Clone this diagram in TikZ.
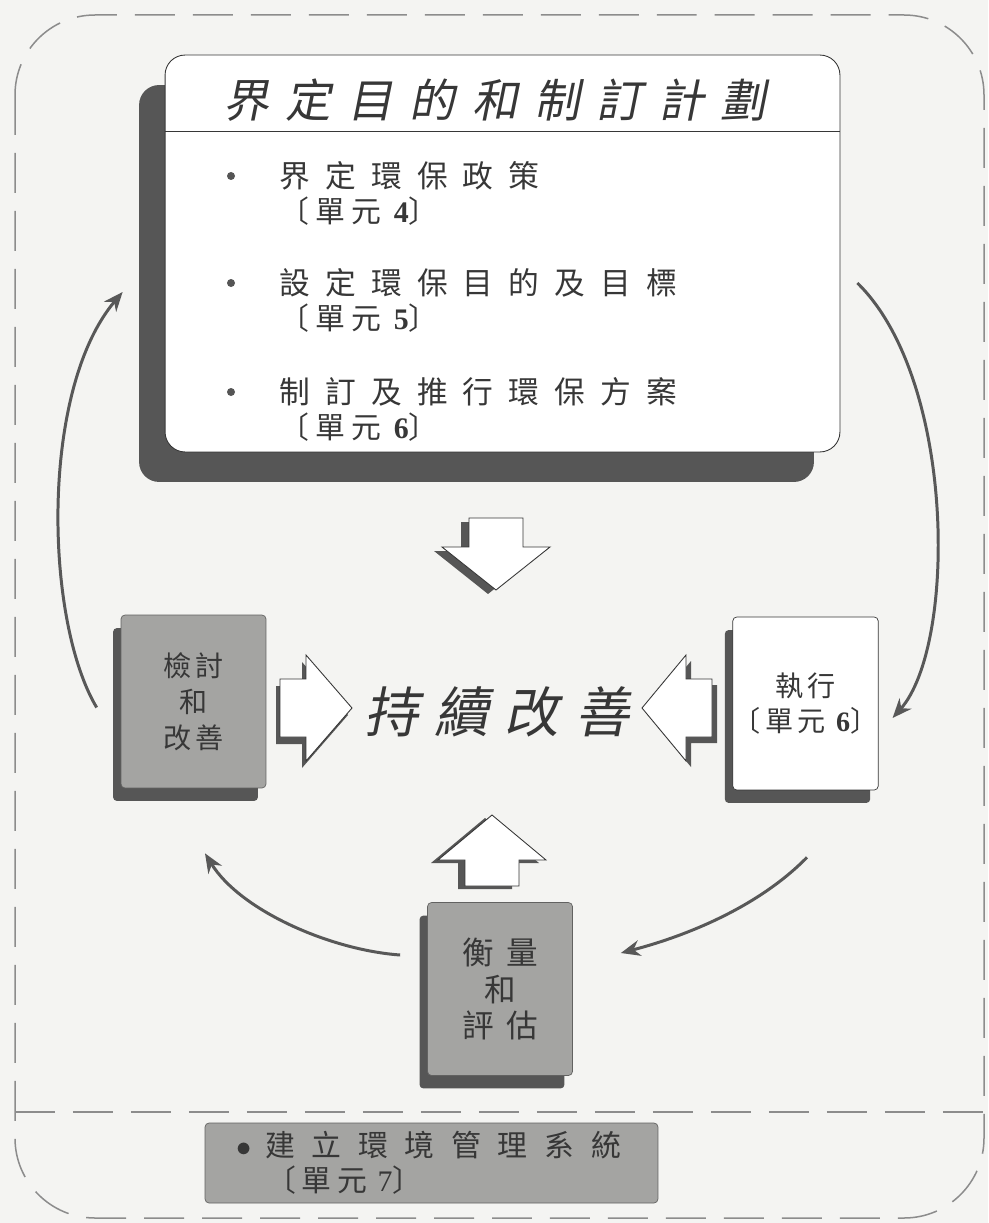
\documentclass[tikz,border=0pt]{standalone}
\usepackage{fontspec}
\usetikzlibrary{positioning,shadows,arrows.meta}

\newfontfamily\cjk{Noto Sans CJK TC}
\newfontfamily\cjkslant[FakeSlant=0.2]{Noto Sans CJK TC}
\newfontfamily\numf{Liberation Serif}
\newcommand\unitno[1]{{\numf\bfseries #1}}

\definecolor{bg}{RGB}{244,244,242}
\definecolor{ink}{RGB}{55,55,55}
\definecolor{boxgray}{RGB}{164,164,162}
\definecolor{shadowgray}{RGB}{86,86,86}
\definecolor{arcgray}{RGB}{88,88,88}
\definecolor{framegray}{RGB}{140,140,140}

\tikzset{
    dashframe/.style={draw=framegray, line width=0.3mm, dash pattern=on 8mm off 3.6mm},
    roundarrow/.style={draw=arcgray, line width=1.7pt, -{Stealth[length=11pt,width=9pt]}},
    hollow/.style 2 args={draw=ink, line width=0.5pt, fill=white,
        drop shadow={shadow xshift=#1, shadow yshift=#2, fill=shadowgray, opacity=1}},
    planbox/.style={draw=ink, line width=0.5pt, fill=white, rounded corners=4mm,
        minimum width=13.5cm, minimum height=7.94cm,
        drop shadow={shadow xshift=-5.2mm, shadow yshift=-6mm, fill=shadowgray, opacity=1}},
    plainbox/.style={draw=ink, line width=0.4pt, fill=white, rounded corners=0.8mm,
        minimum width=2.9cm, minimum height=3.46cm, align=center, text=ink, inner xsep=0pt,
        font=\cjk\fontsize{16}{20.4}\selectfont\addfontfeature{LetterSpace=15},
        drop shadow={shadow xshift=-1.6mm, shadow yshift=-2.6mm, fill=shadowgray, opacity=1}},
    graybox/.style={plainbox, fill=boxgray, draw=boxgray!60!black},
    flatbox/.style={draw=boxgray!60!black, line width=0.4pt, fill=boxgray, rounded corners=0.8mm,
        align=left, text=ink, text width=7.82cm, inner xsep=0.62cm, minimum height=1.6cm,
        font=\cjk\fontsize{17}{19.8}\selectfont\addfontfeature{LetterSpace=56}},
    titletext/.style={text=ink, font=\cjkslant\fontsize{26}{30}\selectfont\addfontfeature{LetterSpace=36}},
    goaltext/.style={text=ink, font=\cjkslant\fontsize{31}{36}\selectfont\addfontfeature{LetterSpace=29}},
    bulletdot/.style={circle, fill=ink!85, inner sep=0pt, minimum size=1.6mm},
    itemtext/.style={text=ink, inner sep=0pt, font=\cjk\fontsize{17.5}{20}\selectfont\addfontfeature{LetterSpace=49}},
    unittext/.style={text=ink, inner sep=0pt, font=\cjk\fontsize{17}{20}\selectfont\addfontfeature{LetterSpace=20}}
}

\begin{document}
\begin{tikzpicture}[x=0.02cm, y=-0.02cm]
    \path [use as bounding box, fill=bg] (0,0) rectangle (988,1223);
    \draw [dashframe, rounded corners=1.6cm] (15,15) rectangle (984,1218);
    \draw [dashframe] (15,1112) -- (984,1112);

    \node [planbox] (plan) at (502.5,253.5) {};
    \draw [ink, line width=0.5pt] ([yshift=-1.54cm]plan.north west) -- ([yshift=-1.54cm]plan.north east);
    \node [titletext] (head) at (495,100) {界定目的和制訂計劃};

    \node [bulletdot] (d1) at (231,176) {};
    \node [itemtext] (t1) [right=0.88cm of d1] {界定環保政策};
    \node [unittext] (u1) [below=1.2mm of t1.south west, anchor=north west] {〔單元 \unitno{4}〕};
    \node [bulletdot] (d2) at (231,283) {};
    \node [itemtext] (t2) [right=0.88cm of d2] {設定環保目的及目標};
    \node [unittext] (u2) [below=1.2mm of t2.south west, anchor=north west] {〔單元 \unitno{5}〕};
    \node [bulletdot] (d3) at (231,392) {};
    \node [itemtext] (t3) [right=0.88cm of d3] {制訂及推行環保方案};
    \node [unittext] (u3) [below=1.2mm of t3.south west, anchor=north west] {〔單元 \unitno{6}〕};

    \node [graybox] (review) at (193.5,701.5) {檢討\\和\\改善};
    \node [plainbox] (execute) at (805.5,703.5) {執行\\〔單元 \unitno{6}〕};
    \node [graybox, font=\cjk\fontsize{18}{21}\selectfont\addfontfeature{LetterSpace=40}] (measure) at (500,989) {衡量\\和\\評估};
    \node [goaltext] (goal) at (497,712) {持續改善};
    \node [flatbox] (ems) at (431.5,1163) {\makebox[5.8mm][l]{$\bullet$}建立環境管理系統\\\hspace*{6mm}{\addfontfeature{LetterSpace=20}〔單元 {\numf 7}〕}};

    \draw [hollow={-1.6mm}{-0.8mm}] (469,518) -- (523,518) -- (523,547) -- (550,547) -- (496,590) -- (442,547) -- (469,547) -- cycle;
    \draw [hollow={-0.8mm}{-1.4mm}] (280,679) -- (306,679) -- (306,655) -- (352,708) -- (306,761) -- (306,737) -- (280,737) -- cycle;
    \draw [hollow={1mm}{-1.2mm}] (712,679) -- (686,679) -- (686,655) -- (642,708) -- (686,761) -- (686,737) -- (712,737) -- cycle;
    \draw [hollow={-1.4mm}{-0.6mm}] (465,886) -- (519,886) -- (519,860) -- (546,860) -- (492,815) -- (438,860) -- (465,860) -- cycle;

    \draw [roundarrow] ([shift={(-24,6)}]review.west) .. controls +(-52,-87) and +(-83,98) .. ([shift={(-42,38.5)}]plan.west);
    \draw [roundarrow] ([shift={(17,29.5)}]plan.east) .. controls +(99,97) and +(64,-72) .. ([shift={(14,14.5)}]execute.east);
    \draw [roundarrow] ([shift={(1.5,67)}]execute.south) .. controls +(-47,48) and +(69,-18) .. ([shift={(48,-36)}]measure.east);
    \draw [roundarrow] ([shift={(-27,-34)}]measure.west) .. controls +(-70,-5) and +(35,57) .. ([shift={(11.5,65)}]review.south);
\end{tikzpicture}
\end{document}
